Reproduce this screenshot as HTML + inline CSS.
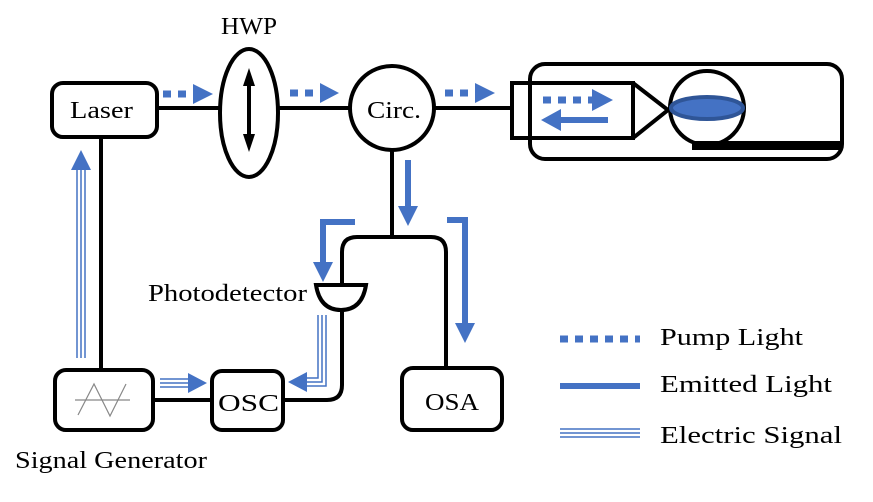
<!DOCTYPE html>
<html><head><style>body{margin:0;background:#fff}svg{display:block}text{font-family:"Liberation Serif",serif;fill:#000}</style></head>
<body>
<svg width="873" height="502" viewBox="0 0 873 502" xmlns="http://www.w3.org/2000/svg">
<g stroke="#000" stroke-width="4" fill="none">
<line x1="157" y1="108" x2="220" y2="108"/>
<line x1="278" y1="108" x2="350" y2="108"/>
<line x1="434" y1="108" x2="512" y2="108"/>
<line x1="101" y1="137" x2="101" y2="370"/>
<line x1="392" y1="150" x2="392" y2="237"/>
<path d="M342,283 V252 Q342,237 357,237 H431 Q446,237 446,252 V368"/>
<path d="M342,310 V385 Q342,400 327,400 H283"/>
<line x1="153" y1="400" x2="212" y2="400"/>
<rect x="52" y="83" width="105" height="54" rx="11" fill="#fff"/>
<ellipse cx="249" cy="113" rx="29" ry="64" fill="#fff"/>
<circle cx="392" cy="108" r="42" fill="#fff"/>
<rect x="530" y="64" width="312" height="95" rx="15"/>
<rect x="512" y="83" width="121" height="55"/>
<path d="M633,83 L668,110 L633,138"/>
<circle cx="707" cy="108" r="37" fill="#fff"/>
<path d="M316,285 H366 Q362,310 341,310 Q320,310 316,285 Z" fill="#fff"/>
<rect x="212" y="371" width="71" height="59" rx="10" fill="#fff"/>
<rect x="55" y="370" width="98" height="60" rx="11" fill="#fff"/>
<rect x="402" y="368" width="100" height="62" rx="11" fill="#fff"/>
</g>
<rect x="692" y="141" width="150" height="9" fill="#000"/>
<ellipse cx="707" cy="108" rx="36" ry="11" fill="#4472c4" stroke="#2f5597" stroke-width="4"/>
<line x1="249" y1="80" x2="249" y2="140" stroke="#000" stroke-width="4"/>
<path d="M243,86 L249,68 L255,86Z M243,134 L249,152 L255,134Z" fill="#000"/>
<g stroke="#888" stroke-width="1.2" fill="none"><line x1="75" y1="400" x2="130" y2="400"/><path d="M78,415 L94,384 L110,416 L126,384"/></g>
<g stroke="#4472c4" stroke-width="7" stroke-dasharray="8,7" fill="none">
<line x1="163" y1="94" x2="195" y2="94"/><line x1="290" y1="93" x2="322" y2="93"/><line x1="445" y1="93" x2="477" y2="93"/><line x1="543" y1="100" x2="593" y2="100"/><line x1="560" y1="339" x2="640" y2="339"/>
</g>
<g fill="#4472c4">
<path d="M193,84 L213,94 L193,104Z M320,83 L339,93 L320,103Z M475,83 L495,93 L475,103Z M592,89 L613,100 L592,111Z"/>
</g>
<g stroke="#4472c4" stroke-width="6" fill="none">
<line x1="560" y1="120" x2="608" y2="120"/>
<line x1="408" y1="160" x2="408" y2="208"/>
<path d="M355,222 H323 V265"/>
<path d="M447,220 H465 V325"/>
<line x1="560" y1="386" x2="640" y2="386"/>
</g>
<path d="M561,109 L541,120 L561,131Z M398,206 L408,226 L418,206Z M313,262 L323,282 L333,262Z M455,323 L465,343 L475,323Z" fill="#4472c4"/>
<g fill="none" stroke="#4472c4" stroke-width="1.5">
<path d="M77,358 V170 M81,358 V170 M85,358 V170"/>
<path d="M160,379 H190 M160,383 H190 M160,387 H190"/>
<path d="M318,315 V378 H305 M322,315 V382 H305 M326,315 V386 H305"/>
<path d="M560,429 H640 M560,433 H640 M560,437 H640"/>
</g>
<path d="M71,170 L81,150 L91,170Z M188,373 L207,383 L188,393Z M307,372 L288,382 L307,392Z" fill="#4472c4"/>
<g font-size="24" lengthAdjust="spacingAndGlyphs">
<text x="70" y="118" textLength="63" lengthAdjust="spacingAndGlyphs">Laser</text>
<text x="221" y="34" textLength="56" lengthAdjust="spacingAndGlyphs">HWP</text>
<text x="367" y="118" textLength="54" lengthAdjust="spacingAndGlyphs">Circ.</text>
<text x="148" y="301" textLength="159" lengthAdjust="spacingAndGlyphs">Photodetector</text>
<text x="218" y="411" textLength="61" lengthAdjust="spacingAndGlyphs">OSC</text>
<text x="425" y="410" textLength="54" lengthAdjust="spacingAndGlyphs">OSA</text>
<text x="15" y="468" textLength="192" lengthAdjust="spacingAndGlyphs">Signal Generator</text>
<text x="660" y="345" textLength="143" lengthAdjust="spacingAndGlyphs">Pump Light</text>
<text x="660" y="392" textLength="172" lengthAdjust="spacingAndGlyphs">Emitted Light</text>
<text x="660" y="443" textLength="182" lengthAdjust="spacingAndGlyphs">Electric Signal</text>
</g>
</svg>
</body></html>
